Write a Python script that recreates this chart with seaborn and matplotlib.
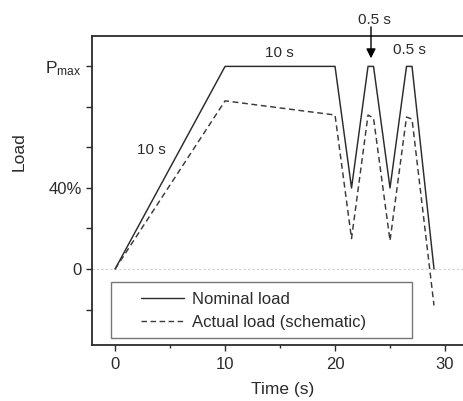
import matplotlib
matplotlib.use("Agg")
import matplotlib.pyplot as plt
from matplotlib.patches import Rectangle
import seaborn as sns
import pandas as pd

# Load programme (percent of P_max) against time in seconds
nominal_time = [0, 10, 20, 21.5, 23, 23.5, 25, 26.5, 27, 29]
nominal_load = [0, 100, 100, 40, 100, 100, 40, 100, 100, 0]
actual_time = [0, 10, 20, 21.5, 23, 23.5, 25, 26.5, 27, 29]
actual_load = [0, 83, 76, 15, 76, 74.5, 14, 75, 74, -18]
series_names = ["Nominal load", "Actual load (schematic)"]

ytick_values = [-20, 0, 20, 40, 60, 80, 100]
ytick_labels = ["", "0", "", "40%", "", "", r"$\mathregular{P_{max}}$"]
xtick_values = [0, 10, 20, 30]

df = pd.concat([
    pd.DataFrame({"Time (s)": nominal_time, "Load": nominal_load, "series": series_names[0]}),
    pd.DataFrame({"Time (s)": actual_time, "Load": actual_load, "series": series_names[1]}),
], ignore_index=True)

sns.set_theme(style="white")
plt.rcParams["font.family"] = ["Liberation Sans", "DejaVu Sans"]
plt.rcParams["mathtext.fontset"] = "custom"
plt.rcParams["mathtext.rm"] = "Liberation Sans"

ink = "#2b2b2b"
fig = plt.figure(figsize=(4.63, 4.01), dpi=100)
ax = fig.add_axes([92 / 463, 56 / 401, 375 / 463, 309 / 401])

ax.axhline(0, color="#cfcfcf", lw=0.8, ls=(0, (2, 2)), zorder=0)

sns.lineplot(data=df, x="Time (s)", y="Load", style="series", hue="series",
             palette={series_names[0]: ink, series_names[1]: "#3a3a3a"},
             dashes={series_names[0]: "", series_names[1]: (4, 2.5)},
             estimator=None, sort=False, linewidth=1.05, ax=ax, legend=False)

ax.set_xlim(-2.1, 32)
ax.set_ylim(-37.5, 115)

ax.set_yticks(ytick_values)
ax.set_yticklabels(ytick_labels)
ax.set_xticks(xtick_values)
ax.set_xticks([5, 15, 25], minor=True)
ax.tick_params(axis="both", which="major", direction="out", length=4.5, width=1.0,
               color=ink, labelsize=12, labelcolor=ink, pad=3, left=True, bottom=True)
ax.tick_params(axis="x", which="minor", direction="out", length=2.5, width=1.0,
               color=ink, bottom=True)
ax.tick_params(axis="x", which="major", pad=4)
for lab in ax.get_yticklabels():
    if "max" in lab.get_text():
        lab.set_fontsize(12.5)

for side in ["left", "bottom", "top"]:
    ax.spines[side].set_color(ink)
    ax.spines[side].set_linewidth(1.3)
ax.spines["right"].set_visible(False)

ax.set_xlabel("Time (s)", fontsize=12.5, color=ink)
ax.set_ylabel("Load", fontsize=12.5, color=ink)
ax.xaxis.set_label_coords(0.509, -0.12)
ax.yaxis.set_label_coords(-0.175, 0.625)

# Annotations of the segment durations
txt = dict(fontsize=11, color=ink, ha="center", va="center")
ax.text(3.3, 58.5, "10 s", **txt)
ax.text(14.95, 106.5, "10 s", **txt)
ax.text(26.8, 108, "0.5 s", **txt)
ax.text(23.6, 122.7, "0.5 s", clip_on=False, **txt)
ax.annotate("", xy=(23.27, 104), xytext=(23.27, 119.5), annotation_clip=False,
            arrowprops=dict(arrowstyle="-|>", color="black", lw=1.0,
                            mutation_scale=14, shrinkA=0, shrinkB=0))

# Legend framed by a plain rectangle
ax.add_patch(Rectangle((19 / 375, 7 / 309), 301 / 375, 56 / 309, transform=ax.transAxes,
                       fill=False, edgecolor="#777777", lw=1.0, zorder=3))
handles = [plt.Line2D([], [], color=ink, lw=1.0),
           plt.Line2D([], [], color="#3a3a3a", lw=1.0, ls=(0, (4, 2.5)))]
ax.legend(handles, series_names, loc="upper left",
          bbox_to_anchor=(49 / 375, 53 / 309), frameon=False, fontsize=12,
          handlelength=2.6, handletextpad=0.45, labelspacing=0.45, borderpad=0,
          borderaxespad=0, labelcolor=ink)

fig.savefig("out.png", dpi=100)
